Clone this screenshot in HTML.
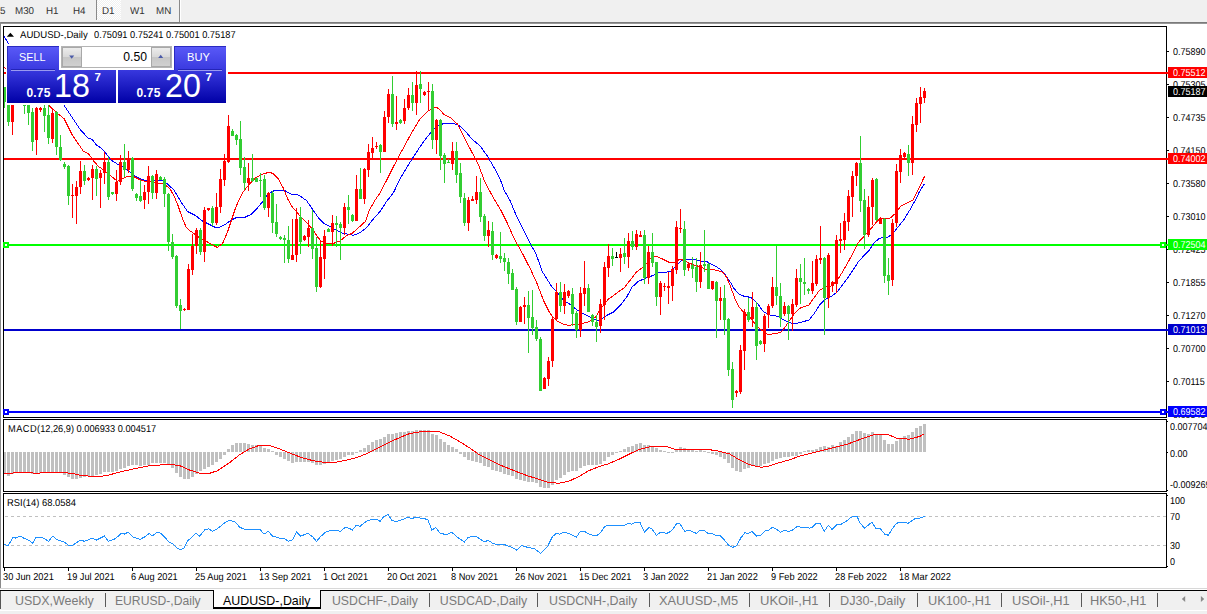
<!DOCTYPE html>
<html><head><meta charset="utf-8"><title>AUDUSD-,Daily</title>
<style>
html,body{margin:0;padding:0}
body{width:1207px;height:614px;position:relative;overflow:hidden;background:#fff;font-family:"Liberation Sans",sans-serif;}
#tb{position:absolute;left:0;top:0;width:1207px;height:22px;background:#f0f0f0}
#tb span{position:absolute;top:6px;font-size:10px;line-height:11px;color:#333;white-space:nowrap;transform:scaleX(.98);text-rendering:geometricPrecision;transform-origin:0 0}
.vsep{position:absolute;width:1px;background:#8a8a8a}
#band{position:absolute;left:0;top:22px;width:1207px;height:2px;background:linear-gradient(#6c6c6c,#a4a4a4)}
#lb{position:absolute;left:0;top:22px;width:1px;height:568px;background:#8a8a8a}
.ax{position:absolute;left:1172.7px;font-size:10px;line-height:11px;color:#000;white-space:nowrap;transform:scaleX(.9);text-rendering:geometricPrecision;transform-origin:0 0}
.tag{position:absolute;left:1168px;width:39px;height:11px;white-space:nowrap;overflow:hidden}
.tag span{position:absolute;left:4.6px;top:1px;font-size:10px;line-height:11px;transform:scaleX(.9);text-rendering:geometricPrecision;transform-origin:0 0}
.dt{position:absolute;top:572px;font-size:10px;line-height:11px;color:#000;white-space:nowrap;transform:scaleX(.922);text-rendering:geometricPrecision;transform-origin:0 0}
.lbl{position:absolute;font-size:10px;line-height:11px;color:#000;white-space:nowrap;text-rendering:geometricPrecision}
#tabs{position:absolute;left:0;top:588px;width:1207px;height:26px;background:#f0f0f0}
.tab{position:absolute;top:5.5px;font-size:12.4px;line-height:14px;color:#7a7a7a;white-space:nowrap}
.tsep{position:absolute;top:5px;width:1px;height:14px;background:#5a5a5a}
</style></head><body>
<div id="tb">
<span style="left:-0.5px">5</span><span style="left:14.8px">M30</span><span style="left:45.6px">H1</span><span style="left:73px">H4</span>
<div class="vsep" style="left:96px;top:0;height:20px"></div>
<div style="position:absolute;left:97px;top:0;width:24px;height:20px;background:repeating-conic-gradient(#ffffff 0% 25%, #f0f0f0 0% 50%) 0 0/2px 2px"></div>
<span style="left:101.6px">D1</span><span style="left:129.8px">W1</span><span style="left:156.3px">MN</span>
<div class="vsep" style="left:179px;top:0;height:22px"></div>
<div class="vsep" style="left:180px;top:0;height:22px;background:#fff"></div>
</div>
<div id="band"></div><div id="lb"></div>
<svg id="chart" width="1207" height="614" viewBox="0 0 1207 614" shape-rendering="crispEdges" style="position:absolute;left:0;top:0">
<defs><clipPath id="cm"><rect x="4" y="27" width="1162" height="390"/></clipPath><clipPath id="ci"><rect x="4" y="420" width="1162" height="148"/></clipPath></defs>
<g clip-path="url(#cm)">
<rect x="4" y="72" width="1162" height="2" fill="#ff0000"/>
<rect x="4" y="158" width="1162" height="2" fill="#ff0000"/>
<rect x="4" y="244" width="1162" height="2" fill="#00ff00"/>
<rect x="4" y="329" width="1162" height="2" fill="#0000cd"/>
<rect x="4" y="411" width="1162" height="2" fill="#0000ff"/>
<polyline points="3.0,34.5 9.0,44.5 40.0,78.0 64.1,105.3 72.1,117.4 80.1,129.4 88.1,138.1 92.2,139.4 96.2,144.7 100.2,147.4 105.5,152.8 110.9,160.1 117.5,164.1 122.9,166.8 129.5,171.5 133.6,175.0 138.9,178.3 145.6,180.7 150.0,181.3 155.3,180.3 163.4,180.7 167.4,184.0 174.0,190.0 180.7,201.4 187.4,211.4 195.4,215.4 202.1,220.8 208.8,224.1 215.4,227.4 219.5,227.4 224.8,224.8 230.1,220.8 236.8,217.4 244.8,217.4 251.5,214.1 256.8,208.7 263.5,200.7 267.5,194.1 274.2,190.7 284.9,190.7 291.6,194.5 296.9,194.7 300.0,196.0 306.7,200.7 313.4,210.7 318.7,218.0 324.0,223.4 330.7,226.7 336.1,230.1 342.7,233.4 348.1,234.1 353.4,235.4 360.1,232.7 366.8,227.4 373.5,218.7 380.1,211.4 386.5,201.6 393.4,192.8 400.1,178.8 406.8,167.4 413.5,156.7 420.1,146.7 426.8,137.4 433.5,129.6 438.8,125.6 444.2,123.3 453.5,123.3 458.9,125.3 465.5,131.4 472.2,139.4 480.2,146.0 486.9,155.4 493.6,166.7 500.0,178.8 504.1,190.0 510.1,200.7 516.8,216.7 524.8,232.7 530.1,243.4 535.5,252.8 539.5,263.5 542.2,271.5 546.2,277.7 551.5,286.4 556.8,291.7 563.5,300.4 570.2,304.4 576.9,309.8 583.6,313.8 590.2,317.1 596.9,320.2 600.0,320.1 606.7,315.4 613.4,312.1 621.4,304.0 626.7,297.0 632.1,287.1 638.7,281.1 645.4,278.4 652.1,275.8 658.8,272.7 665.4,272.4 670.8,271.1 676.1,265.8 681.5,260.4 686.8,259.1 693.5,259.1 700.2,261.1 706.8,261.7 713.5,265.1 720.2,269.1 725.5,275.1 730.9,283.1 733.6,288.0 738.9,294.0 744.2,296.3 750.9,297.4 756.7,302.4 763.4,311.8 770.0,315.1 778.0,316.4 784.7,320.4 791.4,323.1 796.7,323.4 803.4,321.5 808.8,320.2 814.1,313.8 819.4,305.1 824.8,299.7 831.5,296.4 836.8,292.4 843.5,283.7 850.2,274.4 856.8,264.3 858.1,262.0 863.5,256.1 868.8,250.8 874.2,242.8 879.5,238.1 887.5,237.4 892.9,233.4 898.2,226.7 903.6,220.1 910.2,209.4 916.9,197.4 919.5,191.5 924.2,184.1" fill="none" stroke="#0000ff" stroke-width="1"/>
<polyline points="4.0,67.0 30.0,92.0 44.0,101.0 48.7,105.3 57.4,113.4 64.1,118.7 72.1,134.7 77.5,142.7 83.5,151.4 88.8,154.1 93.5,160.8 98.8,166.8 102.8,169.4 106.8,172.8 113.5,178.1 117.5,181.5 121.5,179.0 128.2,176.2 133.6,176.5 140.2,179.8 145.6,181.4 150.0,181.8 158.0,183.8 163.4,183.8 170.0,188.7 174.0,196.0 178.0,205.4 182.0,217.4 186.0,226.8 190.0,230.8 194.0,233.5 198.0,236.8 203.8,239.9 210.9,244.0 217.2,247.4 222.6,243.4 227.5,232.1 231.5,220.1 235.5,208.1 239.5,198.7 243.5,191.4 248.8,184.7 255.5,178.0 260.9,174.7 268.9,172.3 272.9,173.4 278.2,178.7 283.6,188.7 287.6,198.7 291.6,206.1 296.9,212.1 300.0,216.0 306.7,222.7 313.4,230.1 317.4,236.7 321.4,241.4 326.7,243.4 333.4,243.4 340.1,241.0 346.7,235.4 352.1,233.4 357.4,228.7 365.4,221.4 369.5,210.0 374.5,201.0 380.1,192.8 386.7,180.1 393.4,166.7 400.1,154.1 406.8,141.6 412.1,132.1 420.1,118.8 428.1,110.8 436.2,107.0 440.2,110.1 444.2,114.8 450.9,118.1 457.5,124.1 462.9,134.8 466.9,142.7 473.6,155.4 478.9,166.1 484.2,180.1 489.6,190.8 494.5,199.8 500.8,210.0 507.4,223.4 512.8,235.4 516.8,243.4 522.1,252.8 527.5,263.5 530.4,269.0 536.8,283.0 543.5,300.4 548.8,311.1 552.8,317.1 558.2,321.8 563.5,324.2 568.9,325.5 574.2,324.4 580.9,323.8 588.9,321.8 595.6,317.1 600.9,308.4 604.8,303.8 608.0,299.4 614.7,294.7 617.4,292.5 624.0,288.0 630.7,279.5 636.1,272.4 641.4,268.4 645.4,265.1 649.4,259.1 653.4,256.4 657.4,256.7 662.8,259.1 669.4,262.4 674.8,262.0 680.1,259.1 685.5,261.1 692.2,264.4 698.8,266.4 705.5,269.1 712.2,269.5 717.5,270.4 722.9,272.4 726.9,277.8 730.9,287.5 734.9,298.7 738.9,306.7 742.9,311.4 746.9,315.4 750.9,318.4 755.3,324.0 760.7,329.5 767.4,334.5 774.0,333.8 780.7,332.5 784.7,327.8 788.7,321.8 794.1,313.8 799.4,308.4 808.8,305.1 814.1,297.7 819.4,290.4 824.8,287.1 831.5,286.0 836.8,281.0 842.2,272.4 847.8,262.6 852.8,253.5 858.1,242.8 863.5,236.8 868.8,231.4 874.2,224.7 879.5,218.7 883.5,218.7 890.2,218.1 895.5,213.4 900.9,206.0 906.2,203.4 912.9,200.0 917.5,191.0 924.7,176.1" fill="none" stroke="#ff0000" stroke-width="1"/>
<rect x="4" y="87" width="1" height="21" fill="#32cd32"/>
<rect x="3" y="87" width="3" height="15" fill="#32cd32"/>
<rect x="8" y="95" width="1" height="31" fill="#32cd32"/>
<rect x="7" y="98" width="3" height="24" fill="#32cd32"/>
<rect x="12" y="95" width="1" height="40" fill="#ff0000"/>
<rect x="11" y="100" width="3" height="22" fill="#ff0000"/>
<rect x="16" y="90" width="1" height="12" fill="#ff0000"/>
<rect x="15" y="92" width="3" height="8" fill="#ff0000"/>
<rect x="20" y="90" width="1" height="12" fill="#32cd32"/>
<rect x="19" y="92" width="3" height="8" fill="#32cd32"/>
<rect x="24" y="100" width="1" height="14" fill="#32cd32"/>
<rect x="23" y="105" width="3" height="1" fill="#32cd32"/>
<rect x="28" y="100" width="1" height="25" fill="#32cd32"/>
<rect x="27" y="105" width="3" height="8" fill="#32cd32"/>
<rect x="32" y="108" width="1" height="43" fill="#32cd32"/>
<rect x="31" y="112" width="3" height="30" fill="#32cd32"/>
<rect x="36" y="107" width="1" height="48" fill="#ff0000"/>
<rect x="35" y="108" width="3" height="32" fill="#ff0000"/>
<rect x="40" y="107" width="1" height="5" fill="#ff0000"/>
<rect x="39" y="108" width="3" height="2" fill="#ff0000"/>
<rect x="44" y="105" width="1" height="27" fill="#32cd32"/>
<rect x="43" y="108" width="3" height="8" fill="#32cd32"/>
<rect x="48" y="105" width="1" height="39" fill="#32cd32"/>
<rect x="47" y="115" width="3" height="23" fill="#32cd32"/>
<rect x="52" y="110" width="1" height="33" fill="#ff0000"/>
<rect x="51" y="113" width="3" height="26" fill="#ff0000"/>
<rect x="56" y="111" width="1" height="44" fill="#32cd32"/>
<rect x="55" y="112" width="3" height="35" fill="#32cd32"/>
<rect x="60" y="135" width="1" height="26" fill="#32cd32"/>
<rect x="59" y="147" width="3" height="13" fill="#32cd32"/>
<rect x="64" y="162" width="1" height="7" fill="#32cd32"/>
<rect x="63" y="164" width="3" height="3" fill="#32cd32"/>
<rect x="68" y="165" width="1" height="40" fill="#32cd32"/>
<rect x="67" y="166" width="3" height="30" fill="#32cd32"/>
<rect x="72" y="184" width="1" height="34" fill="#ff0000"/>
<rect x="71" y="195" width="3" height="1" fill="#ff0000"/>
<rect x="76" y="181" width="1" height="43" fill="#ff0000"/>
<rect x="75" y="187" width="3" height="9" fill="#ff0000"/>
<rect x="80" y="161" width="1" height="33" fill="#ff0000"/>
<rect x="79" y="171" width="3" height="16" fill="#ff0000"/>
<rect x="84" y="165" width="1" height="20" fill="#32cd32"/>
<rect x="83" y="171" width="3" height="10" fill="#32cd32"/>
<rect x="88" y="177" width="1" height="4" fill="#ff0000"/>
<rect x="87" y="178" width="3" height="2" fill="#ff0000"/>
<rect x="92" y="165" width="1" height="35" fill="#ff0000"/>
<rect x="91" y="169" width="3" height="9" fill="#ff0000"/>
<rect x="96" y="166" width="1" height="30" fill="#32cd32"/>
<rect x="95" y="169" width="3" height="10" fill="#32cd32"/>
<rect x="100" y="170" width="1" height="38" fill="#ff0000"/>
<rect x="99" y="173" width="3" height="5" fill="#ff0000"/>
<rect x="104" y="152" width="1" height="32" fill="#ff0000"/>
<rect x="103" y="162" width="3" height="11" fill="#ff0000"/>
<rect x="108" y="157" width="1" height="43" fill="#32cd32"/>
<rect x="107" y="162" width="3" height="35" fill="#32cd32"/>
<rect x="112" y="192" width="1" height="3" fill="#32cd32"/>
<rect x="111" y="192" width="3" height="2" fill="#32cd32"/>
<rect x="116" y="170" width="1" height="31" fill="#ff0000"/>
<rect x="115" y="182" width="3" height="12" fill="#ff0000"/>
<rect x="120" y="155" width="1" height="30" fill="#ff0000"/>
<rect x="119" y="162" width="3" height="20" fill="#ff0000"/>
<rect x="124" y="144" width="1" height="33" fill="#32cd32"/>
<rect x="123" y="162" width="3" height="8" fill="#32cd32"/>
<rect x="128" y="151" width="1" height="22" fill="#ff0000"/>
<rect x="127" y="159" width="3" height="11" fill="#ff0000"/>
<rect x="132" y="157" width="1" height="34" fill="#32cd32"/>
<rect x="131" y="158" width="3" height="31" fill="#32cd32"/>
<rect x="136" y="193" width="1" height="8" fill="#32cd32"/>
<rect x="135" y="194" width="3" height="4" fill="#32cd32"/>
<rect x="140" y="180" width="1" height="22" fill="#32cd32"/>
<rect x="139" y="196" width="3" height="5" fill="#32cd32"/>
<rect x="144" y="185" width="1" height="24" fill="#ff0000"/>
<rect x="143" y="192" width="3" height="8" fill="#ff0000"/>
<rect x="148" y="166" width="1" height="38" fill="#ff0000"/>
<rect x="147" y="176" width="3" height="16" fill="#ff0000"/>
<rect x="152" y="175" width="1" height="24" fill="#32cd32"/>
<rect x="151" y="176" width="3" height="17" fill="#32cd32"/>
<rect x="156" y="170" width="1" height="29" fill="#ff0000"/>
<rect x="155" y="174" width="3" height="19" fill="#ff0000"/>
<rect x="160" y="176" width="1" height="4" fill="#32cd32"/>
<rect x="159" y="177" width="3" height="3" fill="#32cd32"/>
<rect x="164" y="177" width="1" height="30" fill="#32cd32"/>
<rect x="163" y="179" width="3" height="15" fill="#32cd32"/>
<rect x="168" y="193" width="1" height="58" fill="#32cd32"/>
<rect x="167" y="194" width="3" height="48" fill="#32cd32"/>
<rect x="172" y="234" width="1" height="25" fill="#32cd32"/>
<rect x="171" y="242" width="3" height="15" fill="#32cd32"/>
<rect x="176" y="255" width="1" height="53" fill="#32cd32"/>
<rect x="175" y="256" width="3" height="50" fill="#32cd32"/>
<rect x="180" y="299" width="1" height="30" fill="#32cd32"/>
<rect x="179" y="305" width="3" height="6" fill="#32cd32"/>
<rect x="184" y="308" width="1" height="3" fill="#ff0000"/>
<rect x="183" y="309" width="3" height="1" fill="#ff0000"/>
<rect x="188" y="264" width="1" height="46" fill="#ff0000"/>
<rect x="187" y="269" width="3" height="41" fill="#ff0000"/>
<rect x="192" y="234" width="1" height="41" fill="#ff0000"/>
<rect x="191" y="246" width="3" height="24" fill="#ff0000"/>
<rect x="196" y="228" width="1" height="26" fill="#ff0000"/>
<rect x="195" y="230" width="3" height="16" fill="#ff0000"/>
<rect x="200" y="228" width="1" height="27" fill="#32cd32"/>
<rect x="199" y="230" width="3" height="22" fill="#32cd32"/>
<rect x="204" y="207" width="1" height="55" fill="#ff0000"/>
<rect x="203" y="210" width="3" height="42" fill="#ff0000"/>
<rect x="208" y="208" width="1" height="3" fill="#ff0000"/>
<rect x="207" y="208" width="3" height="2" fill="#ff0000"/>
<rect x="212" y="206" width="1" height="20" fill="#32cd32"/>
<rect x="211" y="208" width="3" height="15" fill="#32cd32"/>
<rect x="216" y="193" width="1" height="32" fill="#ff0000"/>
<rect x="215" y="207" width="3" height="16" fill="#ff0000"/>
<rect x="220" y="169" width="1" height="44" fill="#ff0000"/>
<rect x="219" y="179" width="3" height="28" fill="#ff0000"/>
<rect x="224" y="154" width="1" height="32" fill="#ff0000"/>
<rect x="223" y="161" width="3" height="19" fill="#ff0000"/>
<rect x="228" y="115" width="1" height="48" fill="#ff0000"/>
<rect x="227" y="126" width="3" height="36" fill="#ff0000"/>
<rect x="232" y="129" width="1" height="7" fill="#32cd32"/>
<rect x="231" y="131" width="3" height="5" fill="#32cd32"/>
<rect x="236" y="134" width="1" height="11" fill="#32cd32"/>
<rect x="235" y="135" width="3" height="5" fill="#32cd32"/>
<rect x="240" y="121" width="1" height="54" fill="#32cd32"/>
<rect x="239" y="139" width="3" height="29" fill="#32cd32"/>
<rect x="244" y="157" width="1" height="33" fill="#32cd32"/>
<rect x="243" y="167" width="3" height="16" fill="#32cd32"/>
<rect x="248" y="163" width="1" height="28" fill="#ff0000"/>
<rect x="247" y="178" width="3" height="5" fill="#ff0000"/>
<rect x="252" y="154" width="1" height="28" fill="#32cd32"/>
<rect x="251" y="178" width="3" height="3" fill="#32cd32"/>
<rect x="256" y="178" width="1" height="4" fill="#32cd32"/>
<rect x="255" y="178" width="3" height="4" fill="#32cd32"/>
<rect x="260" y="173" width="1" height="24" fill="#32cd32"/>
<rect x="259" y="180" width="3" height="1" fill="#32cd32"/>
<rect x="264" y="175" width="1" height="35" fill="#32cd32"/>
<rect x="263" y="179" width="3" height="29" fill="#32cd32"/>
<rect x="268" y="192" width="1" height="25" fill="#ff0000"/>
<rect x="267" y="193" width="3" height="15" fill="#ff0000"/>
<rect x="272" y="191" width="1" height="42" fill="#32cd32"/>
<rect x="271" y="193" width="3" height="30" fill="#32cd32"/>
<rect x="276" y="204" width="1" height="33" fill="#32cd32"/>
<rect x="275" y="222" width="3" height="12" fill="#32cd32"/>
<rect x="280" y="236" width="1" height="4" fill="#32cd32"/>
<rect x="279" y="237" width="3" height="2" fill="#32cd32"/>
<rect x="284" y="235" width="1" height="28" fill="#32cd32"/>
<rect x="283" y="238" width="3" height="2" fill="#32cd32"/>
<rect x="288" y="226" width="1" height="37" fill="#32cd32"/>
<rect x="287" y="240" width="3" height="19" fill="#32cd32"/>
<rect x="292" y="219" width="1" height="41" fill="#ff0000"/>
<rect x="291" y="255" width="3" height="5" fill="#ff0000"/>
<rect x="296" y="208" width="1" height="54" fill="#ff0000"/>
<rect x="295" y="219" width="3" height="36" fill="#ff0000"/>
<rect x="300" y="207" width="1" height="47" fill="#32cd32"/>
<rect x="299" y="217" width="3" height="25" fill="#32cd32"/>
<rect x="304" y="235" width="1" height="6" fill="#ff0000"/>
<rect x="303" y="236" width="3" height="4" fill="#ff0000"/>
<rect x="308" y="220" width="1" height="27" fill="#ff0000"/>
<rect x="307" y="228" width="3" height="9" fill="#ff0000"/>
<rect x="312" y="210" width="1" height="49" fill="#32cd32"/>
<rect x="311" y="228" width="3" height="21" fill="#32cd32"/>
<rect x="316" y="237" width="1" height="55" fill="#32cd32"/>
<rect x="315" y="248" width="3" height="39" fill="#32cd32"/>
<rect x="320" y="241" width="1" height="47" fill="#ff0000"/>
<rect x="319" y="257" width="3" height="30" fill="#ff0000"/>
<rect x="324" y="230" width="1" height="49" fill="#ff0000"/>
<rect x="323" y="236" width="3" height="23" fill="#ff0000"/>
<rect x="328" y="228" width="1" height="4" fill="#32cd32"/>
<rect x="327" y="229" width="3" height="3" fill="#32cd32"/>
<rect x="332" y="215" width="1" height="31" fill="#ff0000"/>
<rect x="331" y="223" width="3" height="9" fill="#ff0000"/>
<rect x="336" y="216" width="1" height="31" fill="#32cd32"/>
<rect x="335" y="223" width="3" height="2" fill="#32cd32"/>
<rect x="340" y="222" width="1" height="38" fill="#32cd32"/>
<rect x="339" y="224" width="3" height="4" fill="#32cd32"/>
<rect x="344" y="203" width="1" height="32" fill="#ff0000"/>
<rect x="343" y="207" width="3" height="21" fill="#ff0000"/>
<rect x="348" y="195" width="1" height="29" fill="#32cd32"/>
<rect x="347" y="207" width="3" height="3" fill="#32cd32"/>
<rect x="352" y="214" width="1" height="8" fill="#32cd32"/>
<rect x="351" y="215" width="3" height="6" fill="#32cd32"/>
<rect x="356" y="175" width="1" height="46" fill="#ff0000"/>
<rect x="355" y="189" width="3" height="32" fill="#ff0000"/>
<rect x="360" y="168" width="1" height="31" fill="#32cd32"/>
<rect x="359" y="189" width="3" height="10" fill="#32cd32"/>
<rect x="364" y="168" width="1" height="36" fill="#ff0000"/>
<rect x="363" y="169" width="3" height="30" fill="#ff0000"/>
<rect x="368" y="144" width="1" height="33" fill="#ff0000"/>
<rect x="367" y="152" width="3" height="18" fill="#ff0000"/>
<rect x="372" y="137" width="1" height="22" fill="#ff0000"/>
<rect x="371" y="148" width="3" height="5" fill="#ff0000"/>
<rect x="376" y="142" width="1" height="7" fill="#ff0000"/>
<rect x="375" y="146" width="3" height="1" fill="#ff0000"/>
<rect x="380" y="144" width="1" height="29" fill="#32cd32"/>
<rect x="379" y="145" width="3" height="7" fill="#32cd32"/>
<rect x="384" y="111" width="1" height="41" fill="#ff0000"/>
<rect x="383" y="117" width="3" height="35" fill="#ff0000"/>
<rect x="388" y="89" width="1" height="34" fill="#ff0000"/>
<rect x="387" y="94" width="3" height="23" fill="#ff0000"/>
<rect x="392" y="76" width="1" height="51" fill="#32cd32"/>
<rect x="391" y="94" width="3" height="30" fill="#32cd32"/>
<rect x="396" y="96" width="1" height="34" fill="#ff0000"/>
<rect x="395" y="122" width="3" height="2" fill="#ff0000"/>
<rect x="400" y="119" width="1" height="5" fill="#32cd32"/>
<rect x="399" y="120" width="3" height="3" fill="#32cd32"/>
<rect x="404" y="99" width="1" height="25" fill="#ff0000"/>
<rect x="403" y="108" width="3" height="13" fill="#ff0000"/>
<rect x="408" y="88" width="1" height="22" fill="#ff0000"/>
<rect x="407" y="95" width="3" height="13" fill="#ff0000"/>
<rect x="412" y="82" width="1" height="29" fill="#32cd32"/>
<rect x="411" y="95" width="3" height="8" fill="#32cd32"/>
<rect x="416" y="71" width="1" height="44" fill="#ff0000"/>
<rect x="415" y="85" width="3" height="18" fill="#ff0000"/>
<rect x="420" y="71" width="1" height="32" fill="#32cd32"/>
<rect x="419" y="84" width="3" height="5" fill="#32cd32"/>
<rect x="424" y="91" width="1" height="5" fill="#ff0000"/>
<rect x="423" y="92" width="3" height="3" fill="#ff0000"/>
<rect x="428" y="82" width="1" height="28" fill="#ff0000"/>
<rect x="427" y="91" width="3" height="1" fill="#ff0000"/>
<rect x="432" y="84" width="1" height="65" fill="#32cd32"/>
<rect x="431" y="91" width="3" height="49" fill="#32cd32"/>
<rect x="436" y="119" width="1" height="35" fill="#ff0000"/>
<rect x="435" y="120" width="3" height="20" fill="#ff0000"/>
<rect x="440" y="119" width="1" height="51" fill="#32cd32"/>
<rect x="439" y="120" width="3" height="36" fill="#32cd32"/>
<rect x="444" y="153" width="1" height="30" fill="#32cd32"/>
<rect x="443" y="155" width="3" height="9" fill="#32cd32"/>
<rect x="448" y="159" width="1" height="4" fill="#32cd32"/>
<rect x="447" y="162" width="3" height="1" fill="#32cd32"/>
<rect x="452" y="142" width="1" height="28" fill="#ff0000"/>
<rect x="451" y="151" width="3" height="13" fill="#ff0000"/>
<rect x="456" y="142" width="1" height="41" fill="#32cd32"/>
<rect x="455" y="151" width="3" height="24" fill="#32cd32"/>
<rect x="460" y="163" width="1" height="40" fill="#32cd32"/>
<rect x="459" y="173" width="3" height="24" fill="#32cd32"/>
<rect x="464" y="193" width="1" height="33" fill="#32cd32"/>
<rect x="463" y="198" width="3" height="25" fill="#32cd32"/>
<rect x="468" y="197" width="1" height="34" fill="#ff0000"/>
<rect x="467" y="200" width="3" height="23" fill="#ff0000"/>
<rect x="472" y="196" width="1" height="5" fill="#ff0000"/>
<rect x="471" y="199" width="3" height="2" fill="#ff0000"/>
<rect x="476" y="176" width="1" height="28" fill="#ff0000"/>
<rect x="475" y="192" width="3" height="8" fill="#ff0000"/>
<rect x="480" y="178" width="1" height="44" fill="#32cd32"/>
<rect x="479" y="192" width="3" height="25" fill="#32cd32"/>
<rect x="484" y="214" width="1" height="27" fill="#32cd32"/>
<rect x="483" y="216" width="3" height="20" fill="#32cd32"/>
<rect x="488" y="221" width="1" height="26" fill="#ff0000"/>
<rect x="487" y="230" width="3" height="6" fill="#ff0000"/>
<rect x="492" y="222" width="1" height="38" fill="#32cd32"/>
<rect x="491" y="231" width="3" height="24" fill="#32cd32"/>
<rect x="496" y="254" width="1" height="5" fill="#ff0000"/>
<rect x="495" y="255" width="3" height="3" fill="#ff0000"/>
<rect x="500" y="232" width="1" height="31" fill="#32cd32"/>
<rect x="499" y="256" width="3" height="3" fill="#32cd32"/>
<rect x="504" y="253" width="1" height="18" fill="#32cd32"/>
<rect x="503" y="258" width="3" height="4" fill="#32cd32"/>
<rect x="508" y="258" width="1" height="26" fill="#32cd32"/>
<rect x="507" y="262" width="3" height="12" fill="#32cd32"/>
<rect x="512" y="269" width="1" height="21" fill="#32cd32"/>
<rect x="511" y="273" width="3" height="17" fill="#32cd32"/>
<rect x="516" y="287" width="1" height="38" fill="#32cd32"/>
<rect x="515" y="289" width="3" height="33" fill="#32cd32"/>
<rect x="520" y="306" width="1" height="16" fill="#ff0000"/>
<rect x="519" y="307" width="3" height="15" fill="#ff0000"/>
<rect x="524" y="297" width="1" height="27" fill="#ff0000"/>
<rect x="523" y="305" width="3" height="2" fill="#ff0000"/>
<rect x="528" y="291" width="1" height="62" fill="#32cd32"/>
<rect x="527" y="305" width="3" height="13" fill="#32cd32"/>
<rect x="532" y="290" width="1" height="45" fill="#32cd32"/>
<rect x="531" y="317" width="3" height="11" fill="#32cd32"/>
<rect x="536" y="320" width="1" height="21" fill="#32cd32"/>
<rect x="535" y="327" width="3" height="12" fill="#32cd32"/>
<rect x="540" y="337" width="1" height="54" fill="#32cd32"/>
<rect x="539" y="339" width="3" height="52" fill="#32cd32"/>
<rect x="544" y="377" width="1" height="12" fill="#ff0000"/>
<rect x="543" y="378" width="3" height="11" fill="#ff0000"/>
<rect x="548" y="357" width="1" height="29" fill="#ff0000"/>
<rect x="547" y="361" width="3" height="18" fill="#ff0000"/>
<rect x="552" y="318" width="1" height="49" fill="#ff0000"/>
<rect x="551" y="319" width="3" height="42" fill="#ff0000"/>
<rect x="556" y="283" width="1" height="37" fill="#ff0000"/>
<rect x="555" y="292" width="3" height="27" fill="#ff0000"/>
<rect x="560" y="282" width="1" height="30" fill="#32cd32"/>
<rect x="559" y="292" width="3" height="14" fill="#32cd32"/>
<rect x="564" y="284" width="1" height="30" fill="#ff0000"/>
<rect x="563" y="292" width="3" height="14" fill="#ff0000"/>
<rect x="568" y="290" width="1" height="8" fill="#ff0000"/>
<rect x="567" y="291" width="3" height="5" fill="#ff0000"/>
<rect x="572" y="288" width="1" height="38" fill="#32cd32"/>
<rect x="571" y="294" width="3" height="20" fill="#32cd32"/>
<rect x="576" y="311" width="1" height="27" fill="#32cd32"/>
<rect x="575" y="313" width="3" height="17" fill="#32cd32"/>
<rect x="580" y="287" width="1" height="50" fill="#ff0000"/>
<rect x="579" y="293" width="3" height="37" fill="#ff0000"/>
<rect x="584" y="261" width="1" height="45" fill="#ff0000"/>
<rect x="583" y="288" width="3" height="6" fill="#ff0000"/>
<rect x="588" y="284" width="1" height="28" fill="#32cd32"/>
<rect x="587" y="288" width="3" height="24" fill="#32cd32"/>
<rect x="592" y="314" width="1" height="12" fill="#32cd32"/>
<rect x="591" y="315" width="3" height="7" fill="#32cd32"/>
<rect x="596" y="315" width="1" height="27" fill="#32cd32"/>
<rect x="595" y="322" width="3" height="5" fill="#32cd32"/>
<rect x="600" y="299" width="1" height="34" fill="#ff0000"/>
<rect x="599" y="304" width="3" height="22" fill="#ff0000"/>
<rect x="604" y="262" width="1" height="58" fill="#ff0000"/>
<rect x="603" y="267" width="3" height="38" fill="#ff0000"/>
<rect x="608" y="244" width="1" height="33" fill="#ff0000"/>
<rect x="607" y="256" width="3" height="12" fill="#ff0000"/>
<rect x="612" y="248" width="1" height="18" fill="#32cd32"/>
<rect x="611" y="256" width="3" height="3" fill="#32cd32"/>
<rect x="616" y="252" width="1" height="6" fill="#000"/>
<rect x="615" y="257" width="3" height="1" fill="#000"/>
<rect x="620" y="248" width="1" height="24" fill="#ff0000"/>
<rect x="619" y="254" width="3" height="4" fill="#ff0000"/>
<rect x="624" y="238" width="1" height="26" fill="#32cd32"/>
<rect x="623" y="253" width="3" height="4" fill="#32cd32"/>
<rect x="628" y="233" width="1" height="35" fill="#ff0000"/>
<rect x="627" y="241" width="3" height="16" fill="#ff0000"/>
<rect x="632" y="231" width="1" height="19" fill="#32cd32"/>
<rect x="631" y="241" width="3" height="6" fill="#32cd32"/>
<rect x="636" y="230" width="1" height="20" fill="#ff0000"/>
<rect x="635" y="234" width="3" height="13" fill="#ff0000"/>
<rect x="640" y="231" width="1" height="6" fill="#ff0000"/>
<rect x="639" y="235" width="3" height="2" fill="#ff0000"/>
<rect x="644" y="230" width="1" height="54" fill="#32cd32"/>
<rect x="643" y="235" width="3" height="43" fill="#32cd32"/>
<rect x="648" y="246" width="1" height="38" fill="#ff0000"/>
<rect x="647" y="252" width="3" height="26" fill="#ff0000"/>
<rect x="652" y="233" width="1" height="34" fill="#32cd32"/>
<rect x="651" y="252" width="3" height="11" fill="#32cd32"/>
<rect x="656" y="262" width="1" height="44" fill="#32cd32"/>
<rect x="655" y="262" width="3" height="35" fill="#32cd32"/>
<rect x="660" y="281" width="1" height="34" fill="#ff0000"/>
<rect x="659" y="283" width="3" height="14" fill="#ff0000"/>
<rect x="664" y="283" width="1" height="8" fill="#ff0000"/>
<rect x="663" y="286" width="3" height="1" fill="#ff0000"/>
<rect x="668" y="272" width="1" height="32" fill="#ff0000"/>
<rect x="667" y="286" width="3" height="2" fill="#ff0000"/>
<rect x="672" y="266" width="1" height="35" fill="#ff0000"/>
<rect x="671" y="269" width="3" height="17" fill="#ff0000"/>
<rect x="676" y="221" width="1" height="53" fill="#ff0000"/>
<rect x="675" y="227" width="3" height="43" fill="#ff0000"/>
<rect x="680" y="209" width="1" height="24" fill="#ff0000"/>
<rect x="679" y="228" width="3" height="1" fill="#ff0000"/>
<rect x="684" y="221" width="1" height="55" fill="#32cd32"/>
<rect x="683" y="229" width="3" height="41" fill="#32cd32"/>
<rect x="688" y="263" width="1" height="8" fill="#ff0000"/>
<rect x="687" y="264" width="3" height="4" fill="#ff0000"/>
<rect x="692" y="257" width="1" height="21" fill="#32cd32"/>
<rect x="691" y="265" width="3" height="4" fill="#32cd32"/>
<rect x="696" y="258" width="1" height="34" fill="#32cd32"/>
<rect x="695" y="267" width="3" height="15" fill="#32cd32"/>
<rect x="700" y="252" width="1" height="36" fill="#ff0000"/>
<rect x="699" y="265" width="3" height="17" fill="#ff0000"/>
<rect x="704" y="230" width="1" height="42" fill="#32cd32"/>
<rect x="703" y="264" width="3" height="2" fill="#32cd32"/>
<rect x="708" y="263" width="1" height="26" fill="#32cd32"/>
<rect x="707" y="264" width="3" height="25" fill="#32cd32"/>
<rect x="712" y="281" width="1" height="9" fill="#ff0000"/>
<rect x="711" y="281" width="3" height="8" fill="#ff0000"/>
<rect x="716" y="281" width="1" height="57" fill="#32cd32"/>
<rect x="715" y="282" width="3" height="19" fill="#32cd32"/>
<rect x="720" y="287" width="1" height="33" fill="#ff0000"/>
<rect x="719" y="298" width="3" height="3" fill="#ff0000"/>
<rect x="724" y="285" width="1" height="50" fill="#32cd32"/>
<rect x="723" y="298" width="3" height="22" fill="#32cd32"/>
<rect x="728" y="318" width="1" height="58" fill="#32cd32"/>
<rect x="727" y="319" width="3" height="51" fill="#32cd32"/>
<rect x="732" y="362" width="1" height="46" fill="#32cd32"/>
<rect x="731" y="369" width="3" height="31" fill="#32cd32"/>
<rect x="736" y="390" width="1" height="7" fill="#ff0000"/>
<rect x="735" y="391" width="3" height="2" fill="#ff0000"/>
<rect x="740" y="345" width="1" height="49" fill="#ff0000"/>
<rect x="739" y="350" width="3" height="42" fill="#ff0000"/>
<rect x="744" y="309" width="1" height="61" fill="#ff0000"/>
<rect x="743" y="312" width="3" height="39" fill="#ff0000"/>
<rect x="748" y="298" width="1" height="24" fill="#32cd32"/>
<rect x="747" y="312" width="3" height="8" fill="#32cd32"/>
<rect x="752" y="292" width="1" height="35" fill="#ff0000"/>
<rect x="751" y="307" width="3" height="12" fill="#ff0000"/>
<rect x="756" y="302" width="1" height="58" fill="#32cd32"/>
<rect x="755" y="307" width="3" height="39" fill="#32cd32"/>
<rect x="760" y="340" width="1" height="5" fill="#32cd32"/>
<rect x="759" y="341" width="3" height="3" fill="#32cd32"/>
<rect x="764" y="314" width="1" height="38" fill="#ff0000"/>
<rect x="763" y="316" width="3" height="28" fill="#ff0000"/>
<rect x="768" y="304" width="1" height="24" fill="#ff0000"/>
<rect x="767" y="306" width="3" height="9" fill="#ff0000"/>
<rect x="772" y="277" width="1" height="31" fill="#ff0000"/>
<rect x="771" y="287" width="3" height="19" fill="#ff0000"/>
<rect x="776" y="246" width="1" height="59" fill="#32cd32"/>
<rect x="775" y="287" width="3" height="9" fill="#32cd32"/>
<rect x="780" y="283" width="1" height="44" fill="#32cd32"/>
<rect x="779" y="296" width="3" height="22" fill="#32cd32"/>
<rect x="784" y="302" width="1" height="14" fill="#ff0000"/>
<rect x="783" y="306" width="3" height="8" fill="#ff0000"/>
<rect x="788" y="305" width="1" height="35" fill="#32cd32"/>
<rect x="787" y="306" width="3" height="8" fill="#32cd32"/>
<rect x="792" y="299" width="1" height="32" fill="#ff0000"/>
<rect x="791" y="304" width="3" height="10" fill="#ff0000"/>
<rect x="796" y="269" width="1" height="38" fill="#ff0000"/>
<rect x="795" y="278" width="3" height="27" fill="#ff0000"/>
<rect x="800" y="264" width="1" height="40" fill="#32cd32"/>
<rect x="799" y="278" width="3" height="4" fill="#32cd32"/>
<rect x="804" y="258" width="1" height="37" fill="#32cd32"/>
<rect x="803" y="282" width="3" height="2" fill="#32cd32"/>
<rect x="808" y="288" width="1" height="6" fill="#32cd32"/>
<rect x="807" y="289" width="3" height="2" fill="#32cd32"/>
<rect x="812" y="261" width="1" height="33" fill="#ff0000"/>
<rect x="811" y="283" width="3" height="8" fill="#ff0000"/>
<rect x="816" y="255" width="1" height="31" fill="#ff0000"/>
<rect x="815" y="259" width="3" height="25" fill="#ff0000"/>
<rect x="820" y="226" width="1" height="38" fill="#ff0000"/>
<rect x="819" y="258" width="3" height="2" fill="#ff0000"/>
<rect x="824" y="257" width="1" height="78" fill="#32cd32"/>
<rect x="823" y="258" width="3" height="40" fill="#32cd32"/>
<rect x="828" y="253" width="1" height="55" fill="#ff0000"/>
<rect x="827" y="255" width="3" height="43" fill="#ff0000"/>
<rect x="832" y="281" width="1" height="11" fill="#ff0000"/>
<rect x="831" y="282" width="3" height="4" fill="#ff0000"/>
<rect x="836" y="235" width="1" height="58" fill="#ff0000"/>
<rect x="835" y="240" width="3" height="44" fill="#ff0000"/>
<rect x="840" y="223" width="1" height="30" fill="#ff0000"/>
<rect x="839" y="239" width="3" height="2" fill="#ff0000"/>
<rect x="844" y="213" width="1" height="37" fill="#ff0000"/>
<rect x="843" y="221" width="3" height="19" fill="#ff0000"/>
<rect x="848" y="190" width="1" height="41" fill="#ff0000"/>
<rect x="847" y="196" width="3" height="26" fill="#ff0000"/>
<rect x="852" y="171" width="1" height="46" fill="#ff0000"/>
<rect x="851" y="176" width="3" height="21" fill="#ff0000"/>
<rect x="856" y="162" width="1" height="24" fill="#ff0000"/>
<rect x="855" y="163" width="3" height="13" fill="#ff0000"/>
<rect x="860" y="136" width="1" height="76" fill="#32cd32"/>
<rect x="859" y="163" width="3" height="38" fill="#32cd32"/>
<rect x="864" y="189" width="1" height="60" fill="#32cd32"/>
<rect x="863" y="200" width="3" height="35" fill="#32cd32"/>
<rect x="868" y="196" width="1" height="41" fill="#ff0000"/>
<rect x="867" y="207" width="3" height="28" fill="#ff0000"/>
<rect x="872" y="178" width="1" height="47" fill="#ff0000"/>
<rect x="871" y="180" width="3" height="27" fill="#ff0000"/>
<rect x="876" y="178" width="1" height="43" fill="#32cd32"/>
<rect x="875" y="179" width="3" height="41" fill="#32cd32"/>
<rect x="880" y="217" width="1" height="7" fill="#ff0000"/>
<rect x="879" y="219" width="3" height="5" fill="#ff0000"/>
<rect x="884" y="218" width="1" height="65" fill="#32cd32"/>
<rect x="883" y="219" width="3" height="57" fill="#32cd32"/>
<rect x="888" y="258" width="1" height="37" fill="#32cd32"/>
<rect x="887" y="275" width="3" height="6" fill="#32cd32"/>
<rect x="892" y="219" width="1" height="67" fill="#ff0000"/>
<rect x="891" y="223" width="3" height="57" fill="#ff0000"/>
<rect x="896" y="164" width="1" height="63" fill="#ff0000"/>
<rect x="895" y="171" width="3" height="52" fill="#ff0000"/>
<rect x="900" y="149" width="1" height="34" fill="#ff0000"/>
<rect x="899" y="155" width="3" height="17" fill="#ff0000"/>
<rect x="904" y="152" width="1" height="6" fill="#ff0000"/>
<rect x="903" y="153" width="3" height="4" fill="#ff0000"/>
<rect x="908" y="145" width="1" height="31" fill="#32cd32"/>
<rect x="907" y="154" width="3" height="9" fill="#32cd32"/>
<rect x="912" y="116" width="1" height="59" fill="#ff0000"/>
<rect x="911" y="124" width="3" height="39" fill="#ff0000"/>
<rect x="916" y="98" width="1" height="34" fill="#ff0000"/>
<rect x="915" y="103" width="3" height="22" fill="#ff0000"/>
<rect x="920" y="87" width="1" height="36" fill="#ff0000"/>
<rect x="919" y="97" width="3" height="7" fill="#ff0000"/>
<rect x="924" y="88" width="1" height="15" fill="#ff0000"/>
<rect x="923" y="91" width="3" height="7" fill="#ff0000"/>
</g>
<rect x="3" y="26" width="1164" height="1" fill="#000"/><rect x="3" y="417" width="1164" height="1" fill="#000"/><rect x="3" y="26" width="1" height="392" fill="#000"/><rect x="1166" y="26" width="1" height="392" fill="#000"/>
<rect x="3" y="419" width="1164" height="1" fill="#000"/><rect x="3" y="491" width="1164" height="1" fill="#000"/><rect x="3" y="419" width="1" height="73" fill="#000"/><rect x="1166" y="419" width="1" height="73" fill="#000"/>
<rect x="3" y="493" width="1164" height="1" fill="#000"/><rect x="3" y="567" width="1164" height="1" fill="#000"/><rect x="3" y="493" width="1" height="75" fill="#000"/><rect x="1166" y="493" width="1" height="75" fill="#000"/>
<g clip-path="url(#ci)">
<rect x="3" y="452" width="3" height="21" fill="#c0c0c0"/>
<rect x="7" y="452" width="3" height="24" fill="#c0c0c0"/>
<rect x="11" y="452" width="3" height="22" fill="#c0c0c0"/>
<rect x="15" y="452" width="3" height="21" fill="#c0c0c0"/>
<rect x="19" y="452" width="3" height="20" fill="#c0c0c0"/>
<rect x="23" y="452" width="3" height="20" fill="#c0c0c0"/>
<rect x="27" y="452" width="3" height="21" fill="#c0c0c0"/>
<rect x="31" y="452" width="3" height="22" fill="#c0c0c0"/>
<rect x="35" y="452" width="3" height="22" fill="#c0c0c0"/>
<rect x="39" y="452" width="3" height="21" fill="#c0c0c0"/>
<rect x="43" y="452" width="3" height="20" fill="#c0c0c0"/>
<rect x="47" y="452" width="3" height="20" fill="#c0c0c0"/>
<rect x="51" y="452" width="3" height="20" fill="#c0c0c0"/>
<rect x="55" y="452" width="3" height="21" fill="#c0c0c0"/>
<rect x="59" y="452" width="3" height="21" fill="#c0c0c0"/>
<rect x="63" y="452" width="3" height="23" fill="#c0c0c0"/>
<rect x="67" y="452" width="3" height="25" fill="#c0c0c0"/>
<rect x="71" y="452" width="3" height="27" fill="#c0c0c0"/>
<rect x="75" y="452" width="3" height="27" fill="#c0c0c0"/>
<rect x="79" y="452" width="3" height="26" fill="#c0c0c0"/>
<rect x="83" y="452" width="3" height="25" fill="#c0c0c0"/>
<rect x="87" y="452" width="3" height="24" fill="#c0c0c0"/>
<rect x="91" y="452" width="3" height="24" fill="#c0c0c0"/>
<rect x="95" y="452" width="3" height="23" fill="#c0c0c0"/>
<rect x="99" y="452" width="3" height="22" fill="#c0c0c0"/>
<rect x="103" y="452" width="3" height="20" fill="#c0c0c0"/>
<rect x="107" y="452" width="3" height="20" fill="#c0c0c0"/>
<rect x="111" y="452" width="3" height="20" fill="#c0c0c0"/>
<rect x="115" y="452" width="3" height="19" fill="#c0c0c0"/>
<rect x="119" y="452" width="3" height="17" fill="#c0c0c0"/>
<rect x="123" y="452" width="3" height="16" fill="#c0c0c0"/>
<rect x="127" y="452" width="3" height="14" fill="#c0c0c0"/>
<rect x="131" y="452" width="3" height="13" fill="#c0c0c0"/>
<rect x="135" y="452" width="3" height="13" fill="#c0c0c0"/>
<rect x="139" y="452" width="3" height="14" fill="#c0c0c0"/>
<rect x="143" y="452" width="3" height="13" fill="#c0c0c0"/>
<rect x="147" y="452" width="3" height="13" fill="#c0c0c0"/>
<rect x="151" y="452" width="3" height="11" fill="#c0c0c0"/>
<rect x="155" y="452" width="3" height="11" fill="#c0c0c0"/>
<rect x="159" y="452" width="3" height="11" fill="#c0c0c0"/>
<rect x="163" y="452" width="3" height="11" fill="#c0c0c0"/>
<rect x="167" y="452" width="3" height="12" fill="#c0c0c0"/>
<rect x="171" y="452" width="3" height="16" fill="#c0c0c0"/>
<rect x="175" y="452" width="3" height="21" fill="#c0c0c0"/>
<rect x="179" y="452" width="3" height="25" fill="#c0c0c0"/>
<rect x="183" y="452" width="3" height="27" fill="#c0c0c0"/>
<rect x="187" y="452" width="3" height="27" fill="#c0c0c0"/>
<rect x="191" y="452" width="3" height="25" fill="#c0c0c0"/>
<rect x="195" y="452" width="3" height="22" fill="#c0c0c0"/>
<rect x="199" y="452" width="3" height="19" fill="#c0c0c0"/>
<rect x="203" y="452" width="3" height="17" fill="#c0c0c0"/>
<rect x="207" y="452" width="3" height="15" fill="#c0c0c0"/>
<rect x="211" y="452" width="3" height="13" fill="#c0c0c0"/>
<rect x="215" y="452" width="3" height="10" fill="#c0c0c0"/>
<rect x="219" y="452" width="3" height="7" fill="#c0c0c0"/>
<rect x="223" y="452" width="3" height="3" fill="#c0c0c0"/>
<rect x="227" y="449" width="3" height="3" fill="#c0c0c0"/>
<rect x="231" y="445" width="3" height="7" fill="#c0c0c0"/>
<rect x="235" y="443" width="3" height="9" fill="#c0c0c0"/>
<rect x="239" y="443" width="3" height="9" fill="#c0c0c0"/>
<rect x="243" y="443" width="3" height="9" fill="#c0c0c0"/>
<rect x="247" y="444" width="3" height="8" fill="#c0c0c0"/>
<rect x="251" y="445" width="3" height="7" fill="#c0c0c0"/>
<rect x="255" y="445" width="3" height="7" fill="#c0c0c0"/>
<rect x="259" y="446" width="3" height="6" fill="#c0c0c0"/>
<rect x="263" y="448" width="3" height="4" fill="#c0c0c0"/>
<rect x="267" y="449" width="3" height="3" fill="#c0c0c0"/>
<rect x="271" y="451" width="3" height="1" fill="#c0c0c0"/>
<rect x="275" y="452" width="3" height="3" fill="#c0c0c0"/>
<rect x="279" y="452" width="3" height="5" fill="#c0c0c0"/>
<rect x="283" y="452" width="3" height="7" fill="#c0c0c0"/>
<rect x="287" y="452" width="3" height="9" fill="#c0c0c0"/>
<rect x="291" y="452" width="3" height="11" fill="#c0c0c0"/>
<rect x="295" y="452" width="3" height="10" fill="#c0c0c0"/>
<rect x="299" y="452" width="3" height="10" fill="#c0c0c0"/>
<rect x="303" y="452" width="3" height="10" fill="#c0c0c0"/>
<rect x="307" y="452" width="3" height="10" fill="#c0c0c0"/>
<rect x="311" y="452" width="3" height="11" fill="#c0c0c0"/>
<rect x="315" y="452" width="3" height="13" fill="#c0c0c0"/>
<rect x="319" y="452" width="3" height="13" fill="#c0c0c0"/>
<rect x="323" y="452" width="3" height="12" fill="#c0c0c0"/>
<rect x="327" y="452" width="3" height="10" fill="#c0c0c0"/>
<rect x="331" y="452" width="3" height="9" fill="#c0c0c0"/>
<rect x="335" y="452" width="3" height="8" fill="#c0c0c0"/>
<rect x="339" y="452" width="3" height="7" fill="#c0c0c0"/>
<rect x="343" y="452" width="3" height="5" fill="#c0c0c0"/>
<rect x="347" y="452" width="3" height="3" fill="#c0c0c0"/>
<rect x="351" y="452" width="3" height="3" fill="#c0c0c0"/>
<rect x="355" y="452" width="3" height="1" fill="#c0c0c0"/>
<rect x="359" y="450" width="3" height="2" fill="#c0c0c0"/>
<rect x="363" y="448" width="3" height="4" fill="#c0c0c0"/>
<rect x="367" y="445" width="3" height="7" fill="#c0c0c0"/>
<rect x="371" y="442" width="3" height="10" fill="#c0c0c0"/>
<rect x="375" y="440" width="3" height="12" fill="#c0c0c0"/>
<rect x="379" y="439" width="3" height="13" fill="#c0c0c0"/>
<rect x="383" y="437" width="3" height="15" fill="#c0c0c0"/>
<rect x="387" y="434" width="3" height="18" fill="#c0c0c0"/>
<rect x="391" y="434" width="3" height="18" fill="#c0c0c0"/>
<rect x="395" y="433" width="3" height="19" fill="#c0c0c0"/>
<rect x="399" y="432" width="3" height="20" fill="#c0c0c0"/>
<rect x="403" y="432" width="3" height="20" fill="#c0c0c0"/>
<rect x="407" y="431" width="3" height="21" fill="#c0c0c0"/>
<rect x="411" y="431" width="3" height="21" fill="#c0c0c0"/>
<rect x="415" y="430" width="3" height="22" fill="#c0c0c0"/>
<rect x="419" y="430" width="3" height="22" fill="#c0c0c0"/>
<rect x="423" y="430" width="3" height="22" fill="#c0c0c0"/>
<rect x="427" y="430" width="3" height="22" fill="#c0c0c0"/>
<rect x="431" y="434" width="3" height="18" fill="#c0c0c0"/>
<rect x="435" y="435" width="3" height="17" fill="#c0c0c0"/>
<rect x="439" y="439" width="3" height="13" fill="#c0c0c0"/>
<rect x="443" y="442" width="3" height="10" fill="#c0c0c0"/>
<rect x="447" y="445" width="3" height="7" fill="#c0c0c0"/>
<rect x="451" y="447" width="3" height="5" fill="#c0c0c0"/>
<rect x="455" y="449" width="3" height="3" fill="#c0c0c0"/>
<rect x="459" y="452" width="3" height="2" fill="#c0c0c0"/>
<rect x="463" y="452" width="3" height="5" fill="#c0c0c0"/>
<rect x="467" y="452" width="3" height="8" fill="#c0c0c0"/>
<rect x="471" y="452" width="3" height="9" fill="#c0c0c0"/>
<rect x="475" y="452" width="3" height="10" fill="#c0c0c0"/>
<rect x="479" y="452" width="3" height="11" fill="#c0c0c0"/>
<rect x="483" y="452" width="3" height="14" fill="#c0c0c0"/>
<rect x="487" y="452" width="3" height="15" fill="#c0c0c0"/>
<rect x="491" y="452" width="3" height="18" fill="#c0c0c0"/>
<rect x="495" y="452" width="3" height="19" fill="#c0c0c0"/>
<rect x="499" y="452" width="3" height="20" fill="#c0c0c0"/>
<rect x="503" y="452" width="3" height="22" fill="#c0c0c0"/>
<rect x="507" y="452" width="3" height="23" fill="#c0c0c0"/>
<rect x="511" y="452" width="3" height="24" fill="#c0c0c0"/>
<rect x="515" y="452" width="3" height="27" fill="#c0c0c0"/>
<rect x="519" y="452" width="3" height="28" fill="#c0c0c0"/>
<rect x="523" y="452" width="3" height="29" fill="#c0c0c0"/>
<rect x="527" y="452" width="3" height="30" fill="#c0c0c0"/>
<rect x="531" y="452" width="3" height="30" fill="#c0c0c0"/>
<rect x="535" y="452" width="3" height="31" fill="#c0c0c0"/>
<rect x="539" y="452" width="3" height="35" fill="#c0c0c0"/>
<rect x="543" y="452" width="3" height="36" fill="#c0c0c0"/>
<rect x="547" y="452" width="3" height="36" fill="#c0c0c0"/>
<rect x="551" y="452" width="3" height="33" fill="#c0c0c0"/>
<rect x="555" y="452" width="3" height="28" fill="#c0c0c0"/>
<rect x="559" y="452" width="3" height="26" fill="#c0c0c0"/>
<rect x="563" y="452" width="3" height="23" fill="#c0c0c0"/>
<rect x="567" y="452" width="3" height="20" fill="#c0c0c0"/>
<rect x="571" y="452" width="3" height="19" fill="#c0c0c0"/>
<rect x="575" y="452" width="3" height="19" fill="#c0c0c0"/>
<rect x="579" y="452" width="3" height="16" fill="#c0c0c0"/>
<rect x="583" y="452" width="3" height="14" fill="#c0c0c0"/>
<rect x="587" y="452" width="3" height="13" fill="#c0c0c0"/>
<rect x="591" y="452" width="3" height="13" fill="#c0c0c0"/>
<rect x="595" y="452" width="3" height="13" fill="#c0c0c0"/>
<rect x="599" y="452" width="3" height="12" fill="#c0c0c0"/>
<rect x="603" y="452" width="3" height="9" fill="#c0c0c0"/>
<rect x="607" y="452" width="3" height="5" fill="#c0c0c0"/>
<rect x="611" y="452" width="3" height="3" fill="#c0c0c0"/>
<rect x="615" y="452" width="3" height="1" fill="#c0c0c0"/>
<rect x="619" y="451" width="3" height="1" fill="#c0c0c0"/>
<rect x="623" y="449" width="3" height="3" fill="#c0c0c0"/>
<rect x="627" y="447" width="3" height="5" fill="#c0c0c0"/>
<rect x="631" y="446" width="3" height="6" fill="#c0c0c0"/>
<rect x="635" y="444" width="3" height="8" fill="#c0c0c0"/>
<rect x="639" y="443" width="3" height="9" fill="#c0c0c0"/>
<rect x="643" y="445" width="3" height="7" fill="#c0c0c0"/>
<rect x="647" y="445" width="3" height="7" fill="#c0c0c0"/>
<rect x="651" y="447" width="3" height="5" fill="#c0c0c0"/>
<rect x="655" y="448" width="3" height="4" fill="#c0c0c0"/>
<rect x="659" y="450" width="3" height="2" fill="#c0c0c0"/>
<rect x="663" y="451" width="3" height="1" fill="#c0c0c0"/>
<rect x="667" y="452" width="3" height="1" fill="#c0c0c0"/>
<rect x="671" y="452" width="3" height="1" fill="#c0c0c0"/>
<rect x="675" y="449" width="3" height="3" fill="#c0c0c0"/>
<rect x="679" y="447" width="3" height="5" fill="#c0c0c0"/>
<rect x="683" y="448" width="3" height="4" fill="#c0c0c0"/>
<rect x="687" y="449" width="3" height="3" fill="#c0c0c0"/>
<rect x="691" y="449" width="3" height="3" fill="#c0c0c0"/>
<rect x="695" y="451" width="3" height="1" fill="#c0c0c0"/>
<rect x="699" y="450" width="3" height="2" fill="#c0c0c0"/>
<rect x="703" y="451" width="3" height="1" fill="#c0c0c0"/>
<rect x="707" y="452" width="3" height="1" fill="#c0c0c0"/>
<rect x="711" y="452" width="3" height="2" fill="#c0c0c0"/>
<rect x="715" y="452" width="3" height="3" fill="#c0c0c0"/>
<rect x="719" y="452" width="3" height="5" fill="#c0c0c0"/>
<rect x="723" y="452" width="3" height="7" fill="#c0c0c0"/>
<rect x="727" y="452" width="3" height="11" fill="#c0c0c0"/>
<rect x="731" y="452" width="3" height="16" fill="#c0c0c0"/>
<rect x="735" y="452" width="3" height="19" fill="#c0c0c0"/>
<rect x="739" y="452" width="3" height="20" fill="#c0c0c0"/>
<rect x="743" y="452" width="3" height="17" fill="#c0c0c0"/>
<rect x="747" y="452" width="3" height="16" fill="#c0c0c0"/>
<rect x="751" y="452" width="3" height="14" fill="#c0c0c0"/>
<rect x="755" y="452" width="3" height="15" fill="#c0c0c0"/>
<rect x="759" y="452" width="3" height="14" fill="#c0c0c0"/>
<rect x="763" y="452" width="3" height="12" fill="#c0c0c0"/>
<rect x="767" y="452" width="3" height="11" fill="#c0c0c0"/>
<rect x="771" y="452" width="3" height="9" fill="#c0c0c0"/>
<rect x="775" y="452" width="3" height="7" fill="#c0c0c0"/>
<rect x="779" y="452" width="3" height="6" fill="#c0c0c0"/>
<rect x="783" y="452" width="3" height="5" fill="#c0c0c0"/>
<rect x="787" y="452" width="3" height="5" fill="#c0c0c0"/>
<rect x="791" y="452" width="3" height="4" fill="#c0c0c0"/>
<rect x="795" y="452" width="3" height="4" fill="#c0c0c0"/>
<rect x="799" y="452" width="3" height="2" fill="#c0c0c0"/>
<rect x="803" y="451" width="3" height="1" fill="#c0c0c0"/>
<rect x="807" y="450" width="3" height="2" fill="#c0c0c0"/>
<rect x="811" y="450" width="3" height="2" fill="#c0c0c0"/>
<rect x="815" y="449" width="3" height="3" fill="#c0c0c0"/>
<rect x="819" y="447" width="3" height="5" fill="#c0c0c0"/>
<rect x="823" y="446" width="3" height="6" fill="#c0c0c0"/>
<rect x="827" y="447" width="3" height="5" fill="#c0c0c0"/>
<rect x="831" y="445" width="3" height="7" fill="#c0c0c0"/>
<rect x="835" y="446" width="3" height="6" fill="#c0c0c0"/>
<rect x="839" y="442" width="3" height="10" fill="#c0c0c0"/>
<rect x="843" y="440" width="3" height="12" fill="#c0c0c0"/>
<rect x="847" y="437" width="3" height="15" fill="#c0c0c0"/>
<rect x="851" y="434" width="3" height="18" fill="#c0c0c0"/>
<rect x="855" y="431" width="3" height="21" fill="#c0c0c0"/>
<rect x="859" y="431" width="3" height="21" fill="#c0c0c0"/>
<rect x="863" y="433" width="3" height="19" fill="#c0c0c0"/>
<rect x="867" y="434" width="3" height="18" fill="#c0c0c0"/>
<rect x="871" y="432" width="3" height="20" fill="#c0c0c0"/>
<rect x="875" y="434" width="3" height="18" fill="#c0c0c0"/>
<rect x="879" y="435" width="3" height="17" fill="#c0c0c0"/>
<rect x="883" y="440" width="3" height="12" fill="#c0c0c0"/>
<rect x="887" y="444" width="3" height="8" fill="#c0c0c0"/>
<rect x="891" y="444" width="3" height="8" fill="#c0c0c0"/>
<rect x="895" y="441" width="3" height="11" fill="#c0c0c0"/>
<rect x="899" y="439" width="3" height="13" fill="#c0c0c0"/>
<rect x="903" y="436" width="3" height="16" fill="#c0c0c0"/>
<rect x="907" y="435" width="3" height="17" fill="#c0c0c0"/>
<rect x="911" y="432" width="3" height="20" fill="#c0c0c0"/>
<rect x="915" y="428" width="3" height="24" fill="#c0c0c0"/>
<rect x="919" y="426" width="3" height="26" fill="#c0c0c0"/>
<rect x="923" y="424" width="3" height="28" fill="#c0c0c0"/>
<polyline points="4.0,473.4 13.3,473.0 17.2,472.1 30.5,472.4 33.2,473.0 40.0,473.0 43.8,472.1 66.3,472.4 69.0,473.4 74.3,473.7 79.6,475.3 86.2,475.7 90.2,476.4 100.8,476.4 108.8,475.0 119.4,472.1 132.6,469.1 145.9,466.4 150.0,465.7 169.9,464.3 179.8,465.7 189.8,470.1 199.7,473.3 209.6,473.3 217.6,470.7 229.5,462.7 239.5,454.8 249.4,448.8 259.3,445.4 269.3,445.4 279.2,448.8 289.2,452.8 301.1,457.4 313.0,460.7 323.0,462.1 336.9,462.1 348.8,459.7 358.7,456.8 368.7,452.8 378.6,447.8 389.9,441.9 399.9,437.5 409.8,433.5 419.8,431.9 429.7,431.3 439.6,431.9 449.6,435.9 459.5,441.5 469.5,447.8 479.4,454.8 489.3,459.7 499.3,464.7 509.2,468.7 519.2,472.7 529.1,476.3 539.0,479.2 549.0,482.6 558.9,483.2 568.9,481.2 578.8,476.6 588.7,470.7 598.7,466.7 608.6,463.7 619.9,458.8 629.9,453.8 639.8,449.2 649.8,446.8 665.7,446.4 675.6,449.4 693.5,449.4 703.4,449.2 715.4,450.4 729.3,453.8 739.2,459.7 749.2,464.7 761.1,467.3 769.0,466.1 779.0,462.7 788.9,460.1 798.9,456.4 808.8,453.8 818.7,451.4 828.7,448.8 838.6,446.4 846.6,444.5 853.3,441.9 859.9,439.5 866.5,437.2 873.2,435.0 879.8,434.2 886.4,434.2 893.1,436.6 897.0,438.6 903.7,438.6 909.0,439.2 915.6,437.6 920.9,435.9 924.2,433.9" fill="none" stroke="#ff0000" stroke-width="1"/>
<line x1="5" y1="516.5" x2="1166" y2="516.5" stroke="#c0c0c0" stroke-width="1" stroke-dasharray="3,3"/>
<line x1="5" y1="545.5" x2="1166" y2="545.5" stroke="#c0c0c0" stroke-width="1" stroke-dasharray="3,3"/>
<polyline points="4.4,544.1 8.0,546.1 12.9,537.3 15.9,538.1 19.9,536.1 24.9,538.7 29.8,540.7 32.8,543.3 35.8,537.7 41.7,537.3 48.7,541.3 52.7,536.1 56.7,539.7 63.6,541.7 68.6,545.3 72.6,545.3 80.5,540.1 84.5,541.3 92.4,538.1 96.4,540.1 104.4,536.1 108.3,541.3 115.3,538.7 121.3,533.4 124.3,534.1 128.2,532.2 133.2,537.3 140.2,539.3 145.1,536.7 149.1,533.4 152.1,536.1 157.1,532.2 161.0,533.4 165.0,537.3 169.0,542.1 173.0,544.1 176.9,548.1 180.9,549.7 183.9,548.1 187.9,540.7 195.8,533.4 199.8,536.1 204.8,529.8 208.7,528.8 212.7,531.4 218.7,527.8 224.7,522.8 229.6,520.2 235.0,521.8 239.9,527.4 244.9,529.4 259.8,529.4 264.2,534.1 268.2,531.4 272.7,536.1 279.7,538.1 284.7,538.7 288.6,541.3 292.6,539.7 296.6,532.2 300.6,536.1 307.9,533.4 312.5,536.7 316.5,541.3 320.5,536.7 325.4,532.2 331.4,530.2 337.4,530.2 340.3,531.4 345.3,527.4 349.3,528.2 352.3,530.2 356.2,525.4 360.2,526.2 366.2,521.4 371.2,519.4 377.1,519.4 380.1,521.4 384.1,516.3 388.1,514.3 392.0,520.8 397.0,521.4 403.0,519.4 407.9,516.9 411.9,518.8 415.9,516.9 420.9,518.2 427.8,519.4 431.8,530.2 435.8,527.4 439.7,532.8 443.7,534.1 447.7,534.1 451.7,532.2 457.6,537.3 464.3,542.1 468.3,537.3 475.9,536.1 480.9,539.7 484.9,542.1 487.8,540.1 492.8,543.3 497.8,544.7 504.7,544.7 512.7,547.7 516.7,550.1 521.6,545.7 527.6,547.3 534.6,548.7 540.5,553.2 547.5,546.7 552.4,536.7 556.4,533.4 559.4,534.1 564.4,532.2 570.3,534.1 576.3,537.3 580.3,531.4 584.3,531.4 589.2,534.1 596.2,536.1 600.2,532.8 605.1,526.2 608.1,525.4 624.0,525.4 628.0,523.4 632.0,524.2 635.9,522.2 639.9,522.2 644.5,532.2 648.9,527.4 651.8,528.8 656.4,535.3 660.8,532.2 666.8,533.4 671.7,530.8 676.7,523.4 679.7,523.4 684.7,531.4 689.6,530.2 696.3,533.4 699.9,530.2 703.9,530.2 708.9,534.1 711.9,533.4 716.8,536.1 719.8,535.3 723.8,539.3 728.8,545.3 732.7,547.3 736.7,545.7 740.7,538.1 744.7,532.8 748.6,533.4 752.0,531.4 756.6,536.1 760.6,535.3 765.5,530.8 768.5,530.2 772.5,527.4 776.5,529.4 780.5,532.2 784.4,530.2 788.4,531.4 792.4,530.2 797.4,526.2 801.3,527.4 806.3,527.4 809.3,528.2 812.3,527.4 816.2,523.4 820.2,523.4 824.2,531.4 828.2,525.4 832.1,529.4 837.1,524.2 841.1,524.2 846.1,521.4 851.0,517.4 855.0,516.3 857.0,516.3 860.0,522.8 864.6,528.2 867.9,525.4 871.9,522.2 875.9,528.2 879.9,528.2 884.8,534.1 888.4,535.3 891.8,529.4 895.8,524.2 898.7,522.2 905.7,522.2 908.1,523.4 914.7,518.8 921.6,517.8 924.6,516.3" fill="none" stroke="#1e90ff" stroke-width="1"/>
</g>
<rect x="1167" y="51" width="2" height="1" fill="#000"/>
<rect x="1167" y="84" width="2" height="1" fill="#000"/>
<rect x="1167" y="117" width="2" height="1" fill="#000"/>
<rect x="1167" y="150" width="2" height="1" fill="#000"/>
<rect x="1167" y="183" width="2" height="1" fill="#000"/>
<rect x="1167" y="216" width="2" height="1" fill="#000"/>
<rect x="1167" y="249" width="2" height="1" fill="#000"/>
<rect x="1167" y="282" width="2" height="1" fill="#000"/>
<rect x="1167" y="315" width="2" height="1" fill="#000"/>
<rect x="1167" y="348" width="2" height="1" fill="#000"/>
<rect x="1167" y="381" width="2" height="1" fill="#000"/>
<rect x="1167" y="421" width="1" height="1" fill="#000"/>
<rect x="1167" y="452" width="1" height="1" fill="#000"/>
<rect x="1167" y="490" width="1" height="1" fill="#000"/>
<rect x="1167" y="495" width="1" height="1" fill="#000"/>
<rect x="1167" y="566" width="1" height="1" fill="#000"/>
<rect x="4" y="568" width="1" height="3" fill="#000"/>
<rect x="68" y="568" width="1" height="3" fill="#000"/>
<rect x="132" y="568" width="1" height="3" fill="#000"/>
<rect x="196" y="568" width="1" height="3" fill="#000"/>
<rect x="260" y="568" width="1" height="3" fill="#000"/>
<rect x="324" y="568" width="1" height="3" fill="#000"/>
<rect x="388" y="568" width="1" height="3" fill="#000"/>
<rect x="452" y="568" width="1" height="3" fill="#000"/>
<rect x="516" y="568" width="1" height="3" fill="#000"/>
<rect x="580" y="568" width="1" height="3" fill="#000"/>
<rect x="644" y="568" width="1" height="3" fill="#000"/>
<rect x="708" y="568" width="1" height="3" fill="#000"/>
<rect x="772" y="568" width="1" height="3" fill="#000"/>
<rect x="836" y="568" width="1" height="3" fill="#000"/>
<rect x="900" y="568" width="1" height="3" fill="#000"/>
<rect x="3" y="242" width="6" height="6" fill="#00ff00"/><rect x="5" y="244" width="2" height="2" fill="#fff"/>
<rect x="1160" y="242" width="6" height="6" fill="#00ff00"/><rect x="1162" y="244" width="2" height="2" fill="#fff"/>
<rect x="3" y="409" width="6" height="6" fill="#0000ff"/><rect x="5" y="411" width="2" height="2" fill="#fff"/>
<rect x="1160" y="409" width="6" height="6" fill="#0000ff"/><rect x="1162" y="411" width="2" height="2" fill="#fff"/>
<rect x="1166" y="72" width="2" height="2" fill="#ff0000"/>
<rect x="1166" y="158" width="2" height="2" fill="#ff0000"/>
<rect x="1166" y="244" width="2" height="2" fill="#00ff00"/>
<rect x="1166" y="329" width="2" height="2" fill="#0000cd"/>
<rect x="1166" y="411" width="2" height="2" fill="#0000ff"/>
</svg>
<div class="lbl" style="left:19.5px;top:30px;transform:scaleX(.96);transform-origin:0 0">AUDUSD-,Daily</div>
<div class="lbl" style="left:93.6px;top:30px;transform:scaleX(.926);transform-origin:0 0">0.75091 0.75241 0.75001 0.75187</div>
<svg style="position:absolute;left:6px;top:32px" width="9" height="6"><path d="M0.8 4.8 L4.4 0.7 L8 4.8 Z" fill="#000"/></svg>
<div class="lbl" style="left:7.6px;top:424px;transform:scaleX(.924);transform-origin:0 0"><span style="letter-spacing:.5px">MACD</span>(12,26,9) 0.006933 0.004517</div>
<div class="lbl" style="left:7.2px;top:498px;transform:scaleX(.94);transform-origin:0 0">RSI(14) 68.0584</div>
<div class="ax" style="top:47px">0.75890</div><div class="ax" style="top:80px">0.75305</div><div class="ax" style="top:113px">0.74735</div><div class="ax" style="top:146px">0.74150</div><div class="ax" style="top:179px">0.73580</div><div class="ax" style="top:212px">0.73010</div><div class="ax" style="top:245px">0.72425</div><div class="ax" style="top:278px">0.71855</div><div class="ax" style="top:311px">0.71270</div><div class="ax" style="top:344px">0.70700</div><div class="ax" style="top:377px">0.70115</div><div class="ax" style="top:410px">0.69545</div><div class="tag" style="top:67px;background:#ff0000;color:#fff"><span>0.75512</span></div><div class="tag" style="top:86px;background:#000;color:#fff"><span>0.75187</span></div><div class="tag" style="top:153px;background:#ff0000;color:#fff"><span>0.74002</span></div><div class="tag" style="top:239px;background:#00ff00;color:#fff"><span>0.72504</span></div><div class="tag" style="top:324px;background:#0000cd;color:#fff"><span>0.71013</span></div><div class="tag" style="top:406px;background:#0000ff;color:#fff"><span>0.69582</span></div><div class="ax" style="top:422px;left:1170px">0.007704</div><div class="ax" style="top:449px;left:1170px">0.00</div><div class="ax" style="top:480px;left:1170px">-0.009269</div><div class="ax" style="top:496px;left:1170px">100</div><div class="ax" style="top:512px;left:1170px">70</div><div class="ax" style="top:541px;left:1170px">30</div><div class="ax" style="top:557px;left:1170px">0</div><div class="dt" style="left:2.7px">30 Jun 2021</div><div class="dt" style="left:66.7px">19 Jul 2021</div><div class="dt" style="left:130.7px">6 Aug 2021</div><div class="dt" style="left:194.7px">25 Aug 2021</div><div class="dt" style="left:258.7px">13 Sep 2021</div><div class="dt" style="left:322.7px">1 Oct 2021</div><div class="dt" style="left:386.7px">20 Oct 2021</div><div class="dt" style="left:450.7px">8 Nov 2021</div><div class="dt" style="left:514.7px">26 Nov 2021</div><div class="dt" style="left:578.7px">15 Dec 2021</div><div class="dt" style="left:642.7px">3 Jan 2022</div><div class="dt" style="left:706.7px">21 Jan 2022</div><div class="dt" style="left:770.7px">9 Feb 2022</div><div class="dt" style="left:834.7px">28 Feb 2022</div><div class="dt" style="left:898.7px">18 Mar 2022</div>
<div id="tp" style="position:absolute;left:0;top:0;font-family:'Liberation Sans',sans-serif">
<!-- white backing -->
<div style="position:absolute;left:6px;top:44px;width:222px;height:61px;background:#fff"></div>
<!-- sell -->
<div style="position:absolute;left:7px;top:46px;width:52px;height:25px;background:linear-gradient(#5a5af8,#3838de);box-shadow:inset 1px 1px 0 #2a2ac0"></div>
<div style="position:absolute;left:7px;top:70px;width:109px;height:33px;background:linear-gradient(#3838de,#0000a6)"></div>
<div style="position:absolute;left:11px;top:69px;width:44px;height:1px;background:#2424b8"></div>
<div style="position:absolute;left:11px;top:70px;width:44px;height:1px;background:#9a9af0"></div>
<div style="position:absolute;left:18.6px;top:50px;font-size:11.8px;line-height:14px;color:#fff;transform:scaleX(.92);transform-origin:0 0">SELL</div>
<div style="position:absolute;left:26.5px;top:86.4px;font-size:12px;line-height:14px;color:#fff;font-weight:bold;letter-spacing:0.15px">0.75</div>
<div style="position:absolute;left:54px;top:65px;font-size:33.6px;line-height:42px;color:#fff;transform:scaleX(.96);transform-origin:0 0">18</div>
<div style="position:absolute;left:94.5px;top:70px;font-size:11.5px;line-height:14px;color:#fff;font-weight:bold">7</div>
<!-- buy -->
<div style="position:absolute;left:174px;top:46px;width:52px;height:25px;background:linear-gradient(#5a5af8,#3838de);box-shadow:inset 1px 1px 0 #2a2ac0"></div>
<div style="position:absolute;left:118px;top:70px;width:108px;height:33px;background:linear-gradient(#3838de,#0000a6)"></div>
<div style="position:absolute;left:178px;top:69px;width:44px;height:1px;background:#2424b8"></div>
<div style="position:absolute;left:178px;top:70px;width:44px;height:1px;background:#9a9af0"></div>
<div style="position:absolute;left:187px;top:50px;font-size:11.8px;line-height:14px;color:#fff;transform:scaleX(.94);transform-origin:0 0">BUY</div>
<div style="position:absolute;left:136.5px;top:86.4px;font-size:12px;line-height:14px;color:#fff;font-weight:bold;letter-spacing:0.15px">0.75</div>
<div style="position:absolute;left:164.5px;top:65px;font-size:33.6px;line-height:42px;color:#fff;transform:scaleX(.96);transform-origin:0 0">20</div>
<div style="position:absolute;left:205.5px;top:70px;font-size:11.5px;line-height:14px;color:#fff;font-weight:bold">7</div>
<!-- volume -->
<div style="position:absolute;left:61px;top:46px;width:111px;height:22px;box-sizing:border-box;border:1px solid #b4b4b4;background:#fff"></div>
<div style="position:absolute;left:62px;top:47px;width:20px;height:20px;box-sizing:border-box;border:1px solid #a8a8a8;background:linear-gradient(#ececec,#d8d8d8 50%,#c6c6c6 51%,#d0d0d0)"></div>
<div style="position:absolute;left:151px;top:47px;width:20px;height:20px;box-sizing:border-box;border:1px solid #a8a8a8;background:linear-gradient(#ececec,#d8d8d8 50%,#c6c6c6 51%,#d0d0d0)"></div>
<svg style="position:absolute;left:68px;top:55px" width="8" height="5"><path d="M1.2 0.5 L6.2 0.5 L3.7 3.7Z" fill="#4a5aa8"/></svg>
<svg style="position:absolute;left:157px;top:54px" width="8" height="5"><path d="M1.2 4 L6.2 4 L3.7 0.8Z" fill="#4a5aa8"/></svg>
<div style="position:absolute;left:100px;top:50.1px;width:47px;text-align:right;font-size:12.2px;line-height:14px;color:#000">0.50</div>
</div>

<div id="tabs">
<div style="position:absolute;left:0;top:0;width:1207px;height:1px;background:#d8d8d8"></div>
<div style="position:absolute;left:0;top:2px;width:1207px;height:1px;background:#000"></div>
<div style="position:absolute;left:0;top:1px;width:1207px;height:1px;background:#fff"></div>
<div style="position:absolute;left:0;top:21.8px;width:1207px;height:1.4px;background:#fff"></div>
<div style="position:absolute;left:0;top:3px;width:1px;height:18px;background:#555"></div>
<div class="tab" style="left:15.3px;transform:scaleX(1.005);transform-origin:0 0">USDX,Weekly</div><div class="tab" style="left:115.2px;transform:scaleX(0.98);transform-origin:0 0">EURUSD-,Daily</div><div class="tab" style="left:332px;transform:scaleX(0.99);transform-origin:0 0">USDCHF-,Daily</div><div class="tab" style="left:439.8px;transform:scaleX(1);transform-origin:0 0">USDCAD-,Daily</div><div class="tab" style="left:549px;transform:scaleX(1);transform-origin:0 0">USDCNH-,Daily</div><div class="tab" style="left:658.8px;transform:scaleX(1.035);transform-origin:0 0">XAUUSD-,M5</div><div class="tab" style="left:759.5px;transform:scaleX(1.05);transform-origin:0 0">UKOil-,H1</div><div class="tab" style="left:840.3px;transform:scaleX(1.02);transform-origin:0 0">DJ30-,Daily</div><div class="tab" style="left:927.6px;transform:scaleX(1.03);transform-origin:0 0">UK100-,H1</div><div class="tab" style="left:1012.3px;transform:scaleX(1.035);transform-origin:0 0">USOil-,H1</div><div class="tab" style="left:1090.4px;transform:scaleX(1.035);transform-origin:0 0">HK50-,H1</div><div class="tsep" style="left:105px"></div><div class="tsep" style="left:429px"></div><div class="tsep" style="left:537px"></div><div class="tsep" style="left:649px"></div><div class="tsep" style="left:749px"></div><div class="tsep" style="left:829px"></div><div class="tsep" style="left:917px"></div><div class="tsep" style="left:1001px"></div><div class="tsep" style="left:1081px"></div><div class="tsep" style="left:1157px"></div>
<div style="position:absolute;left:213px;top:2px;width:108px;height:19px;background:#fff;border:1px solid #000;border-top:none;box-sizing:border-box;border-bottom-width:2px"></div>
<div class="tab" style="left:223px;color:#000">AUDUSD-,Daily</div>
<svg style="position:absolute;left:1180px;top:7px" width="27" height="9"><path d="M5.2 1 L1.8 4 L5.2 7Z" fill="#8a8a8a"/><path d="M20.9 1 L24.2 4 L20.9 7Z" fill="#8a8a8a"/></svg>
</div>
</body></html>
